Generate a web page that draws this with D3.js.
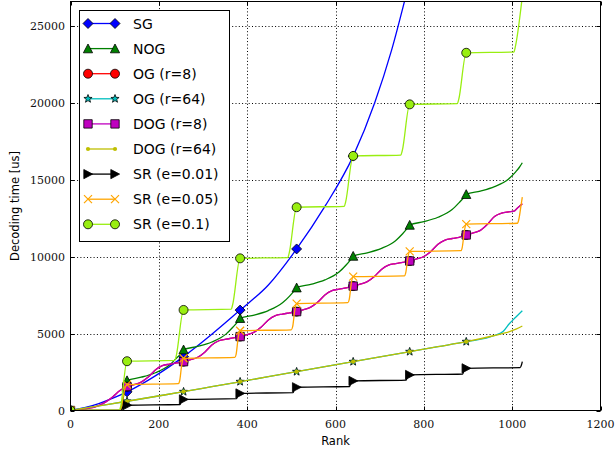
<!DOCTYPE html>
<html><head><meta charset="utf-8">
<script src="https://cdn.jsdelivr.net/npm/d3@7"></script>
<style>body{margin:0;background:#fff}</style>
</head><body>
<svg id="c" width="616" height="453" xmlns="http://www.w3.org/2000/svg"></svg>
<script>
// ---------- data ----------
const xTicks = [0, 200, 400, 600, 800, 1000, 1200];
const yTicks = [0, 5000, 10000, 15000, 20000, 25000];
const markerRanks = [0, 128, 256, 384, 512, 640, 768, 896];
const seriesNames = ["SG", "NOG", "OG (r=8)", "OG (r=64)", "DOG (r=8)", "DOG (r=64)", "SR (e=0.01)", "SR (e=0.05)", "SR (e=0.1)"];

const sg = [[0,0],[32,180],[64,450],[96,800],[128,1210],[160,1700],[192,2250],[224,2850],[256,3500],[320,4950],[384,6520],[448,8150],[512,10490],[576,13250],[640,16520],[689,20000],[727,23400],[760,27000]];

const nog = [[0,0],[110,0],[114,100],[120,900],[128,1950],
  [160,2160],[192,2450],[224,2950],[240,3400],[248,3650],[256,3950],
  [288,4160],[320,4450],[352,4960],[368,5420],[376,5680],[384,5990],
  [416,6200],[448,6490],[480,6990],[496,7430],[504,7690],[512,7975],
  [544,8190],[576,8480],[608,8990],[624,9450],[632,9720],[640,10030],
  [672,10240],[704,10530],[736,11030],[752,11480],[760,11740],[768,12045],
  [800,12260],[832,12550],[864,13050],[880,13500],[888,13750],[896,14040],
  [928,14250],[960,14540],[992,15040],[1008,15500],[1016,15780],[1023,16090]];

const dog8 = [[0,0],[32,100],[64,320],[80,560],[96,900],[112,1300],[128,1550],
  [144,1680],[160,1840],[176,2170],[192,2630],[208,2910],[224,3010],[240,3090],[256,3170],
  [272,3300],[288,3460],[304,3790],[320,4250],[336,4530],[352,4630],[368,4710],[384,4800],
  [400,4930],[416,5090],[432,5420],[448,5880],[464,6160],[480,6260],[496,6340],[512,6420],
  [528,6550],[544,6710],[560,7040],[576,7500],[592,7780],[608,7880],[624,7960],[640,8080],
  [656,8210],[672,8370],[688,8700],[704,9160],[720,9440],[736,9540],[752,9620],[768,9710],
  [784,9840],[800,10000],[816,10330],[832,10790],[848,11070],[864,11170],[880,11250],[896,11400],
  [912,11530],[928,11700],[944,12100],[960,12600],[976,12820],[992,12900],[1004,12950],[1012,13150],[1023,13420]];
const og8 = dog8;

const dog64 = [[0,0],[64,300],[128,600],[192,910],[256,1220],[320,1545],[384,1870],[448,2195],[512,2520],[576,2845],[640,3170],[704,3495],[768,3820],[832,4145],[896,4470],[960,4870],[994,5120],[1010,5300],[1023,5490]];
const og64 = [[0,0],[64,300],[128,600],[192,910],[256,1220],[320,1545],[384,1870],[448,2195],[512,2520],[576,2845],[640,3170],[704,3495],[768,3820],[832,4145],[896,4470],[960,4870],[980,5150],[994,5650],[1008,6050],[1023,6480]];

const sr001 = [[0,0],[113,0],[116,60],[120,300],[128,340],
  [248,390],[251,600],[256,720],[376,770],[379,1000],[384,1110],
  [504,1160],[507,1400],[512,1510],[632,1560],[635,1800],[640,1920],
  [760,1975],[763,2200],[768,2310],[888,2370],[891,2620],[896,2740],
  [1018,2785],[1021,2950],[1023,3170]];

const sr005 = [[0,0],[111,0],[115,200],[120,1000],[124,1500],[128,1680],
  [244,1740],[247,1900],[252,3000],[256,3390],[372,3450],[375,3650],[380,4800],[384,5180],
  [500,5240],[503,5440],[508,6550],[512,6940],[628,7000],[631,7200],[636,8300],[640,8690],
  [756,8740],[759,8940],[764,9950],[768,10330],[884,10380],[887,10600],[892,11700],[896,12100],
  [1012,12160],[1015,12400],[1020,13300],[1023,13860]];

const sr01 = [[0,0],[110,0],[113,200],[128,3200],
  [236,3250],[239,3500],[256,6530],[364,6580],[367,6850],[384,9880],
  [492,9930],[495,10200],[512,13200],[620,13260],[623,13550],[640,16530],
  [748,16590],[751,16850],[768,19880],[876,19930],[879,20200],[896,23230],
  [1004,23280],[1007,23600],[1023,26900]];

const seriesData = [sg, nog, og8, og64, dog8, dog64, sr001, sr005, sr01];

// ---------- styles ----------
const styles = [
  {color:"#0000ff", marker:"diamond", fill:"#0000ff", edge:"#000"},
  {color:"#008000", marker:"triUp",   fill:"#008000", edge:"#000"},
  {color:"#ff0000", marker:"circle",  fill:"#ff0000", edge:"#000"},
  {color:"#00bfbf", marker:"star",    fill:"#00bfbf", edge:"#000"},
  {color:"#bf00bf", marker:"square",  fill:"#bf00bf", edge:"#000"},
  {color:"#bfbf00", marker:"dot",     fill:"#bfbf00", edge:"none"},
  {color:"#000000", marker:"triRight",fill:"#000000", edge:"#000"},
  {color:"#ffa500", marker:"x",       fill:"none",    edge:"#ffa500"},
  {color:"#99ee11", marker:"circle",  fill:"#99ee11", edge:"#000"}
];

function markerPath(type){
  switch(type){
    case "diamond": return "M0,-5L5,0L0,5L-5,0Z";
    case "triUp": return "M0,-4.6L4.6,4.2L-4.6,4.2Z";
    case "triRight": return "M4.6,0L-4.2,4.6L-4.2,-4.6Z";
    case "square": return "M-4.2,-4.2H4.2V4.2H-4.2Z";
    case "circle": return "M4.5,0A4.5,4.5 0 1,1 -4.5,0A4.5,4.5 0 1,1 4.5,0Z";
    case "dot": return "M2.1,0A2.1,2.1 0 1,1 -2.1,0A2.1,2.1 0 1,1 2.1,0Z";
    case "x": return "M-4,-4L4,4M-4,4L4,-4";
    case "star": {
      let p = "";
      for (let i = 0; i < 10; i++) {
        const r = i % 2 === 0 ? 4.3 : 1.8;
        const a = -Math.PI/2 + i * Math.PI/5;
        p += (i ? "L" : "M") + (r*Math.cos(a)).toFixed(2) + "," + (r*Math.sin(a)).toFixed(2);
      }
      return p + "Z";
    }
  }
}

// ---------- chart ----------
const svg = d3.select("#c");
const x = d3.scaleLinear().domain([0, 1200]).range([70.5, 600.5]);
const y = d3.scaleLinear().domain([0, 26560]).range([410.5, 1.5]);
const pL = 70.5, pR = 600.5, pT = 1.5, pB = 410.5;

svg.append("defs").append("clipPath").attr("id","plot")
  .append("rect").attr("x", pL).attr("y", pT).attr("width", pR-pL).attr("height", pB-pT);

// grid
const grid = svg.append("g").attr("stroke","#000").attr("stroke-width",1).attr("stroke-dasharray","1,2.3");
xTicks.slice(1,-1).forEach(t => {
  const px = Math.round(x(t)) + 0.5;
  grid.append("line").attr("x1",px).attr("x2",px).attr("y1",pT).attr("y2",pB);
});
yTicks.slice(1).forEach(t => {
  const py = Math.round(y(t)) + 0.5;
  grid.append("line").attr("x1",pL).attr("x2",pR).attr("y1",py).attr("y2",py);
});

// series
const line = d3.line().x(d => x(d[0])).y(d => y(d[1])).curve(d3.curveMonotoneX);
const plot = svg.append("g").attr("clip-path","url(#plot)");
seriesData.forEach((data, i) => {
  const st = styles[i];
  const g = plot.append("g");
  g.append("path").attr("d", line(data)).attr("fill","none")
    .attr("stroke", st.color).attr("stroke-width", 1.3).attr("stroke-linejoin","round");
  markerRanks.forEach(r => {
    const pt = data.find(d => d[0] === r);
    if (!pt) return;
    g.append("path").attr("d", markerPath(st.marker))
      .attr("transform", `translate(${x(pt[0])},${y(pt[1])})`)
      .attr("fill", st.fill)
      .attr("stroke", st.edge)
      .attr("stroke-width", st.marker === "x" ? 1.2 : 0.8);
  });
});

// frame
svg.append("rect").attr("x",pL).attr("y",pT).attr("width",pR-pL).attr("height",pB-pT)
  .attr("fill","none").attr("stroke","#000").attr("stroke-width",1);

// ticks (inward, all sides)
const tk = svg.append("g").attr("stroke","#000").attr("stroke-width",1);
xTicks.forEach(t => {
  const px = Math.round(x(t)) + 0.5;
  tk.append("line").attr("x1",px).attr("x2",px).attr("y1",pB).attr("y2",pB-4);
  tk.append("line").attr("x1",px).attr("x2",px).attr("y1",pT).attr("y2",pT+4);
});
yTicks.forEach(t => {
  const py = Math.round(y(t)) + 0.5;
  tk.append("line").attr("x1",pL).attr("x2",pL+4).attr("y1",py).attr("y2",py);
  tk.append("line").attr("x1",pR).attr("x2",pR-4).attr("y1",py).attr("y2",py);
});

// tick labels
const tl = svg.append("g").attr("font-family","'DejaVu Serif', serif").attr("font-size","11px").attr("fill","#111");
xTicks.forEach(t => {
  tl.append("text").attr("x", x(t)).attr("y", 428).attr("text-anchor","middle").text(t);
});
yTicks.forEach(t => {
  tl.append("text").attr("x", 65).attr("y", y(t) + 4).attr("text-anchor","end").text(t);
});

// axis labels
svg.append("text").attr("x", (pL+pR)/2).attr("y", 445).attr("text-anchor","middle")
  .attr("font-family","'DejaVu Sans', sans-serif").attr("font-size","11.5px").text("Rank");
svg.append("text").attr("transform", `translate(19,${(pT+pB)/2}) rotate(-90)`).attr("text-anchor","middle")
  .attr("font-family","'DejaVu Sans', sans-serif").attr("font-size","11.5px").text("Decoding time [us]");

// legend
const lg = svg.append("g");
lg.append("rect").attr("x",79.5).attr("y",10.5).attr("width",150).attr("height",231)
  .attr("fill","#fff").attr("stroke","#000").attr("stroke-width",1);
seriesNames.forEach((name, i) => {
  const st = styles[i];
  const cy = 23.5 + i * 25.1;
  lg.append("line").attr("x1",88).attr("x2",115).attr("y1",cy).attr("y2",cy)
    .attr("stroke", st.color).attr("stroke-width",1.3);
  [88,115].forEach(mx => {
    lg.append("path").attr("d", markerPath(st.marker))
      .attr("transform", `translate(${mx},${cy})`)
      .attr("fill", st.fill).attr("stroke", st.edge)
      .attr("stroke-width", st.marker === "x" ? 1.2 : 0.8);
  });
  lg.append("text").attr("x",133).attr("y",cy+5).attr("font-family","'DejaVu Sans', sans-serif")
    .attr("font-size","14px").attr("fill","#000").text(name);
});
</script>
</body></html>
